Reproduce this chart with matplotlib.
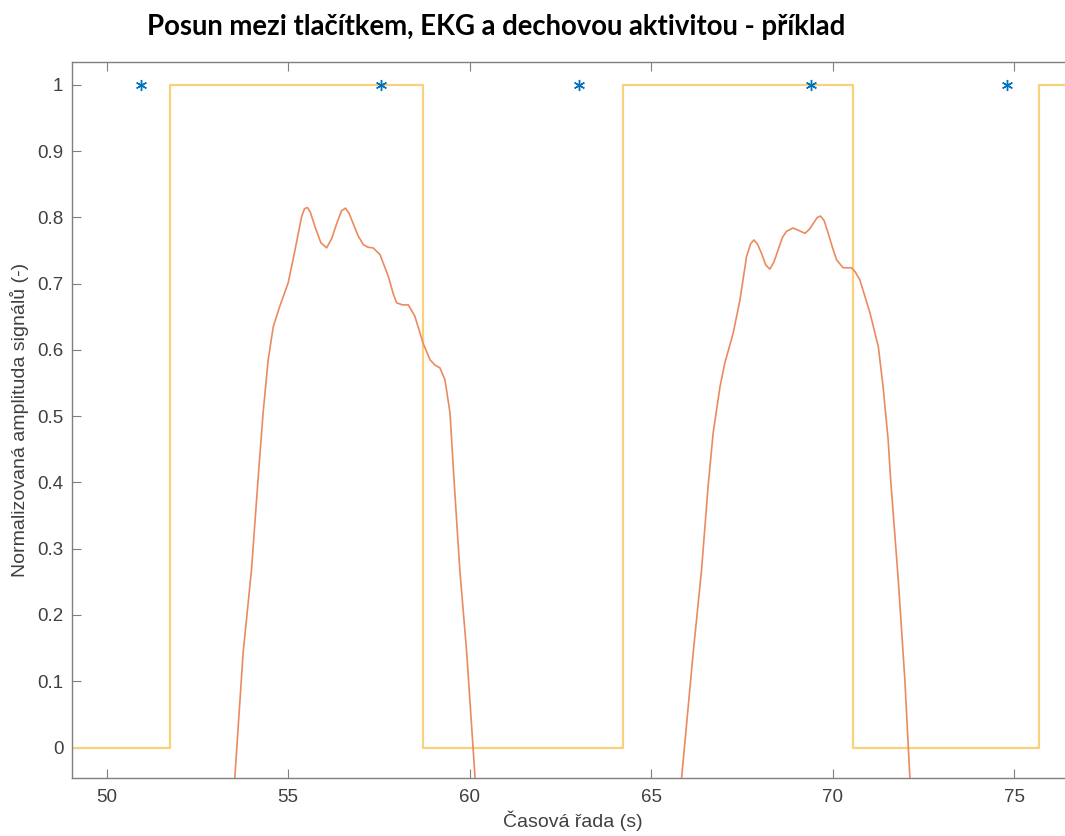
"""Posun mezi tlačítkem, EKG a dechovou aktivitou - graf"""

import matplotlib
matplotlib.use("Agg")
import matplotlib.pyplot as plt
import numpy as np

# tlačítko (obdélníkový signál): hrany a úrovně
button_t = [49.0, 51.74, 58.71, 64.22, 70.55, 75.69, 77.0]
button_y = [0, 1, 0, 1, 0, 1, 1]

# EKG R-vlny (hvězdičky)
ekg_t = [50.94, 57.55, 63.01, 69.40, 74.81]
ekg_y = [1, 1, 1, 1, 1]

# dechová aktivita - první nádech
resp1_t = [53.40, 53.53, 53.76, 53.99, 54.17, 54.31, 54.45, 54.59, 54.77, 55.00,
           55.19, 55.37, 55.45, 55.53, 55.61, 55.74, 55.90, 56.06, 56.20, 56.34,
           56.47, 56.58, 56.68, 56.79, 56.93, 57.07, 57.20, 57.34, 57.53, 57.76,
           57.90, 57.99, 58.15, 58.31, 58.49, 58.72, 58.91, 59.05, 59.18, 59.32,
           59.46, 59.57, 59.73, 59.92, 60.15, 60.20]
resp1_y = [-0.08, -0.046, 0.143, 0.268, 0.404, 0.505, 0.585, 0.635, 0.666, 0.701,
           0.751, 0.801, 0.813, 0.815, 0.808, 0.786, 0.762, 0.754, 0.768, 0.791,
           0.810, 0.814, 0.806, 0.791, 0.772, 0.759, 0.755, 0.754, 0.744, 0.711,
           0.684, 0.671, 0.668, 0.668, 0.651, 0.610, 0.585, 0.577, 0.573, 0.555,
           0.505, 0.404, 0.268, 0.143, -0.046, -0.08]

# dechová aktivita - druhý nádech
resp2_t = [65.75, 65.84, 66.16, 66.39, 66.57, 66.71, 66.90, 67.03, 67.26, 67.45,
           67.63, 67.74, 67.83, 67.93, 68.04, 68.16, 68.27, 68.38, 68.50, 68.62,
           68.73, 68.91, 69.08, 69.24, 69.36, 69.47, 69.58, 69.67, 69.77, 69.88,
           70.00, 70.11, 70.29, 70.52, 70.62, 70.75, 71.03, 71.26, 71.39, 71.53,
           71.60, 71.81, 71.99, 72.13, 72.17]
resp2_y = [-0.08, -0.046, 0.143, 0.268, 0.394, 0.475, 0.545, 0.580, 0.625, 0.676,
           0.741, 0.760, 0.766, 0.760, 0.746, 0.728, 0.722, 0.732, 0.751, 0.770,
           0.779, 0.784, 0.780, 0.776, 0.782, 0.791, 0.800, 0.802, 0.795, 0.776,
           0.754, 0.736, 0.724, 0.724, 0.718, 0.706, 0.656, 0.605, 0.545, 0.465,
           0.404, 0.253, 0.103, -0.046, -0.08]

x_ticks = [50, 55, 60, 65, 70, 75]
y_ticks = [0, 0.1, 0.2, 0.3, 0.4, 0.5, 0.6, 0.7, 0.8, 0.9, 1]

plt.rcParams["font.family"] = ["Liberation Sans", "DejaVu Sans"]

fig = plt.figure(figsize=(10.65, 8.36), dpi=100, facecolor="white")
# osa přesahuje vpravo za okraj obrázku (výřez jako v originále)
ax = fig.add_axes([0.0673, 0.069, 0.9411, 0.8572])

ax.plot(button_t, button_y, drawstyle="steps-post", color="#F7D27A", linewidth=1.6)
ax.plot(resp1_t, resp1_y, color="#EC8A5E", linewidth=1.2)
ax.plot(resp2_t, resp2_y, color="#EC8A5E", linewidth=1.2)
ax.plot(ekg_t, ekg_y, linestyle="none", marker=(6, 2, 0), markersize=8,
        markeredgewidth=1.0, color="#0072BD", zorder=5)

ax.set_xlim(49.036, 76.65)
ax.set_ylim(-0.0465, 1.035)
ax.set_xticks(x_ticks)
ax.set_yticks(y_ticks)
ax.set_yticklabels([f"{v:g}" for v in y_ticks])

grey = "#7f7f7f"
for spine in ax.spines.values():
    spine.set_edgecolor(grey)
    spine.set_linewidth(1.0)
ax.tick_params(direction="in", length=6.5, width=0.8, color=grey,
               top=True, right=True, labelsize=13.5, labelcolor="#404040")
ax.tick_params(axis="x", pad=8)
ax.tick_params(axis="y", pad=6)

ax.set_xlabel("Časová řada (s)", fontsize=14, color="#404040", labelpad=3)
ax.set_ylabel("Normalizovaná amplituda signálů (-)", fontsize=14,
              color="#404040", labelpad=6)

fig.text(0.4657, 0.958, "Posun mezi tlačítkem, EKG a dechovou aktivitou - příklad",
         ha="center", va="baseline", fontsize=19.8, fontweight="bold",
         family=["Lato", "DejaVu Sans"], color="black")

fig.savefig("out.png", dpi=100, facecolor="white")
plt.close(fig)
